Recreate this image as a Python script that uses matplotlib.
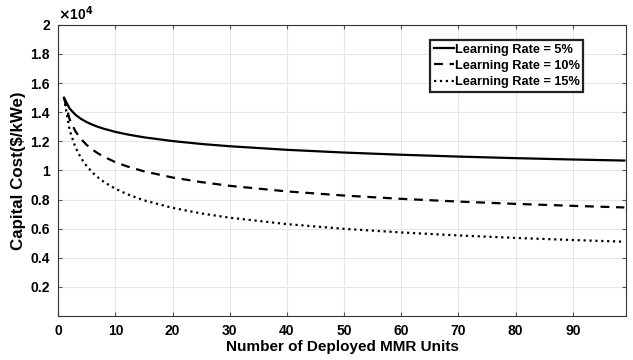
import matplotlib.pyplot as plt

plt.rcParams['font.family'] = ['Liberation Sans', 'DejaVu Sans']
plt.rcParams['font.weight'] = 'bold'

# deployed units and capital cost ($/kWe) per learning rate
units = [1, 2, 3, 4, 5, 6, 7, 8, 10, 12, 15, 20, 25, 30, 40, 50, 60, 70, 80, 90, 99]
cost_5 = [15000, 14250, 13829, 13538, 13316, 13137, 12988, 12861, 12649, 12480, 12276,
          12018, 11820, 11663, 11417, 11230, 11079, 10953, 10845, 10752, 10680]
cost_10 = [15000, 13500, 12693, 12150, 11745, 11424, 11161, 10935, 10570, 10285, 9939,
           9515, 9200, 8944, 8562, 8277, 8051, 7863, 7705, 7569, 7460]
cost_15 = [15000, 12750, 11594, 10838, 10286, 9854, 9506, 9211, 8741, 8378, 7948,
           7431, 7050, 6756, 6315, 5993, 5743, 5538, 5368, 5222, 5107]

xticks = [0, 10, 20, 30, 40, 50, 60, 70, 80, 90]
yticks = [2000, 4000, 6000, 8000, 10000, 12000, 14000, 16000, 18000, 20000]
ylabels = ['0.2', '0.4', '0.6', '0.8', '1', '1.2', '1.4', '1.6', '1.8', '2']

fig = plt.figure(figsize=(6.33, 3.6), dpi=100)
ax = fig.add_axes([0.092, 0.122, 0.897, 0.809])

ax.plot(units, cost_5, color='k', ls='-', lw=1.6, label='Learning Rate = 5%')
ax.plot(units, cost_10, color='k', ls=(0, (4, 3)), lw=1.6, label='Learning Rate = 10%')
ax.plot(units, cost_15, color='k', ls=':', lw=1.6, label='Learning Rate = 15%')

ax.set_xlim(0, 99.3)
ax.set_ylim(0, 20000)
ax.set_xticks(xticks)
ax.set_yticks(yticks)
ax.set_yticklabels(ylabels)
ax.tick_params(direction='in', length=3, labelsize=10, top=True, right=True,
               color='#555555', pad=6)
ax.grid(True, color='#e6e6e6', lw=0.8)
for s in ax.spines.values():
    s.set_color('#333333')
    s.set_linewidth(0.8)

ax.set_xlabel('Number of Deployed MMR Units', fontsize=11, fontweight='bold', labelpad=1)
ax.set_ylabel('Capital Cost($/kWe)', fontsize=12.2, fontweight='bold', labelpad=3)
ax.text(0.0, 1.008, r'$\times$10$^4$', transform=ax.transAxes, fontsize=10,
        fontweight='bold', va='bottom', ha='left')

leg = ax.legend(loc='upper right', bbox_to_anchor=(0.925, 0.948), fontsize=9.2,
                handlelength=1.6, handletextpad=0.05, labelspacing=0.32,
                borderpad=0.3, borderaxespad=0, fancybox=False, framealpha=1)
leg.get_frame().set_edgecolor('#222222')
leg.get_frame().set_linewidth(1.6)

fig.savefig('out.png', dpi=100)
